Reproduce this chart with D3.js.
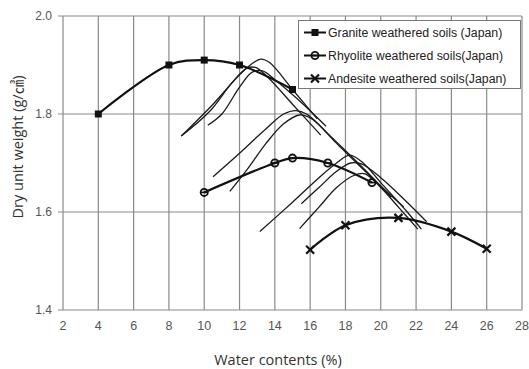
<!DOCTYPE html>
<html>
<head>
<meta charset="utf-8">
<script src="https://cdn.jsdelivr.net/npm/d3@7"></script>
<style>
  html, body { margin: 0; padding: 0; background: #fff; }
  svg { display: block; }
</style>
</head>
<body>
<svg id="chart" width="529" height="369"></svg>
<script>
// Compaction test results: water content (%) vs dry unit weight (g/cm3)
const xTicks = [2, 4, 6, 8, 10, 12, 14, 16, 18, 20, 22, 24, 26, 28];
const yTicks = [1.4, 1.6, 1.8, 2.0];

const graniteW = [4, 8, 10, 12, 15];
const graniteD = [1.80, 1.90, 1.91, 1.90, 1.85];

const rhyoliteW = [10, 14, 15, 17, 19.5];
const rhyoliteD = [1.64, 1.70, 1.71, 1.70, 1.66];

const andesiteW = [16, 18, 21, 24, 26];
const andesiteD = [1.523, 1.573, 1.588, 1.56, 1.525];

// Individual compaction curves (water content, dry unit weight)
const thinCurves = [
  [[8.7,1.755],[10.5,1.82],[12,1.88],[12.8,1.905],[13.2,1.912],[13.7,1.905],[15,1.85],[16.4,1.79]],
  [[8.7,1.755],[10.3,1.805],[11.6,1.865],[12.4,1.893],[12.9,1.895],[13.6,1.875],[15,1.82],[16.6,1.757]],
  [[10.2,1.777],[11,1.80],[12,1.855],[12.7,1.885],[13.3,1.888],[14,1.87],[15.3,1.83],[16.9,1.775]],
  [[10.5,1.672],[12,1.72],[13.5,1.77],[14.5,1.80],[15.2,1.807],[15.8,1.80],[17,1.76],[19,1.69],[20.6,1.63]],
  [[11.45,1.642],[12.5,1.69],[13.5,1.74],[14.5,1.78],[15.4,1.798],[16.1,1.79],[17.5,1.74],[19.5,1.67],[21.3,1.61]],
  [[13.15,1.56],[15,1.62],[16.5,1.67],[17.5,1.70],[18.25,1.716],[19,1.70],[20,1.66],[21.5,1.60],[22.3,1.565]],
  [[15.4,1.566],[16.5,1.61],[17.5,1.65],[18.5,1.675],[19.1,1.678],[20,1.65],[21,1.61],[22.1,1.565]],
  [[15.5,1.617],[16.5,1.65],[17.5,1.683],[18.3,1.70],[18.9,1.698],[20,1.67],[21.2,1.63],[22.6,1.58]]
];

const legendLabels = [
  "Granite weathered soils (Japan)",
  "Rhyolite weathered soils(Japan)",
  "Andesite weathered soils(Japan)"
];

const svg = d3.select("#chart");
const plotLeft = 63, plotRight = 522, plotTop = 16, plotBottom = 310;

const x = d3.scaleLinear().domain([2, 28]).range([plotLeft, plotRight]);
const y = d3.scaleLinear().domain([1.4, 2.0]).range([plotBottom, plotTop]);

const gridColor = "#8a8a8a";

// Grid
const grid = svg.append("g");
grid.selectAll("line.v").data(xTicks).join("line")
  .attr("class", "v")
  .attr("x1", d => x(d)).attr("x2", d => x(d))
  .attr("y1", plotTop).attr("y2", plotBottom)
  .attr("stroke", gridColor).attr("stroke-width", 1.2);
grid.selectAll("line.h").data(yTicks).join("line")
  .attr("class", "h")
  .attr("x1", plotLeft - 5).attr("x2", plotRight)
  .attr("y1", d => y(d)).attr("y2", d => y(d))
  .attr("stroke", gridColor).attr("stroke-width", 1.2);

// Axis tick labels
const tickFont = "Liberation Sans, Arial, sans-serif";
svg.append("g").selectAll("text").data(yTicks).join("text")
  .attr("x", plotLeft - 11).attr("y", d => y(d) + 4)
  .attr("text-anchor", "end")
  .attr("font-family", tickFont).attr("font-size", 12)
  .attr("fill", "#555")
  .text(d => d3.format(".1f")(d));
svg.append("g").selectAll("text").data(xTicks).join("text")
  .attr("x", d => x(d)).attr("y", 330)
  .attr("text-anchor", "middle")
  .attr("font-family", tickFont).attr("font-size", 12.5)
  .attr("fill", "#555")
  .text(d => d);

// Axis titles
svg.append("text")
  .attr("x", 278).attr("y", 365)
  .attr("text-anchor", "middle")
  .attr("font-family", "Open Sans, Noto Sans, sans-serif").attr("font-size", 14.5)
  .attr("fill", "#333")
  .text("Water contents (%)");
svg.append("text")
  .attr("transform", "translate(23,147) rotate(-90)")
  .attr("text-anchor", "middle")
  .attr("font-family", "Open Sans, Noto Sans CJK KR, sans-serif").attr("font-size", 14.5)
  .attr("fill", "#333")
  .text("Dry unit weight (g/㎤)");

// Thin compaction curves
const thinLine = d3.line()
  .x(d => x(d[0])).y(d => y(d[1]))
  .curve(d3.curveCatmullRom.alpha(0.5));
svg.append("g").selectAll("path").data(thinCurves).join("path")
  .attr("d", thinLine)
  .attr("fill", "none").attr("stroke", "#1a1a1a").attr("stroke-width", 1.3);

// Main series
const mainLine = d3.line()
  .x(d => x(d[0])).y(d => y(d[1]))
  .curve(d3.curveCatmullRom.alpha(0.5));

function series(ws, ds) { return ws.map((w, i) => [w, ds[i]]); }
const granite = series(graniteW, graniteD);
const rhyolite = series(rhyoliteW, rhyoliteD);
const andesite = series(andesiteW, andesiteD);

[granite, rhyolite, andesite].forEach(s => {
  svg.append("path").attr("d", mainLine(s))
    .attr("fill", "none").attr("stroke", "#111").attr("stroke-width", 2.2);
});

function drawSquare(g, cx, cy) {
  g.append("rect").attr("x", cx - 3.5).attr("y", cy - 3.5)
    .attr("width", 7).attr("height", 7).attr("fill", "#111");
}
function drawCircle(g, cx, cy) {
  g.append("circle").attr("cx", cx).attr("cy", cy).attr("r", 3.6)
    .attr("fill", "none").attr("stroke", "#111").attr("stroke-width", 1.8);
  g.append("line").attr("x1", cx - 3.6).attr("x2", cx + 3.6)
    .attr("y1", cy).attr("y2", cy).attr("stroke", "#111").attr("stroke-width", 1.6);
}
function drawCross(g, cx, cy) {
  const r = 4;
  g.append("path")
    .attr("d", `M${cx - r},${cy - r}L${cx + r},${cy + r}M${cx - r},${cy + r}L${cx + r},${cy - r}`)
    .attr("stroke", "#111").attr("stroke-width", 2.2);
}

const marks = svg.append("g");
granite.forEach(d => drawSquare(marks, x(d[0]), y(d[1])));
rhyolite.forEach(d => drawCircle(marks, x(d[0]), y(d[1])));
andesite.forEach(d => drawCross(marks, x(d[0]), y(d[1])));

// Legend
const lg = svg.append("g");
lg.append("rect").attr("x", 298.5).attr("y", 20.5)
  .attr("width", 222).attr("height", 68)
  .attr("fill", "#fff").attr("stroke", "#777").attr("stroke-width", 1);
const drawers = [drawSquare, drawCircle, drawCross];
legendLabels.forEach((label, i) => {
  const ly = 32.5 + i * 23;
  lg.append("line").attr("x1", 304).attr("x2", 326)
    .attr("y1", ly).attr("y2", ly)
    .attr("stroke", "#111").attr("stroke-width", 2);
  drawers[i](lg, 315, ly);
  lg.append("text").attr("x", 328).attr("y", ly + 4.5)
    .attr("font-family", tickFont).attr("font-size", 12.3)
    .attr("fill", "#222")
    .text(label);
});
</script>
</body>
</html>
